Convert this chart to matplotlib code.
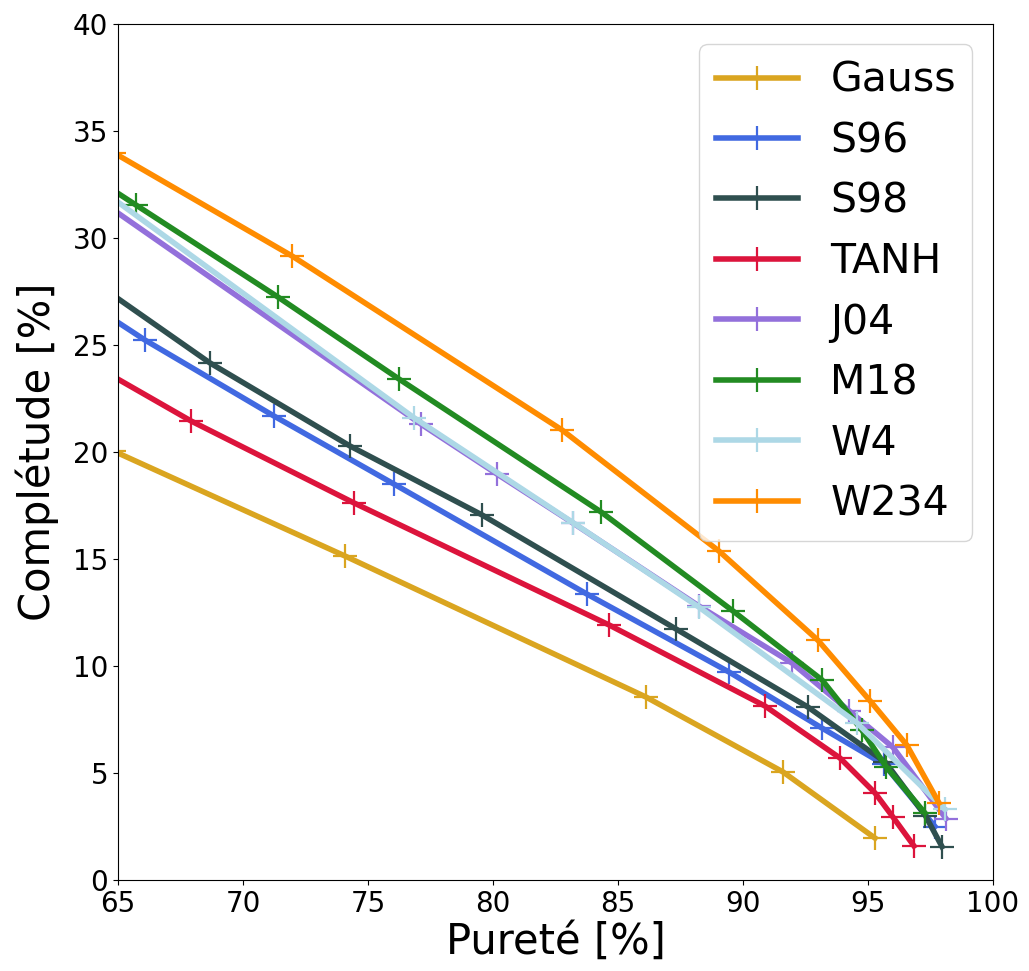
import matplotlib
matplotlib.use("Agg")
import matplotlib.pyplot as plt

# purete [%] / completude [%]
gauss_x = [64.85, 74.08, 86.12, 91.6, 95.28]
gauss_y = [20.03, 15.14, 8.55, 5.05, 1.96]

s96_x = [63.5, 66.08, 71.24, 76.04, 83.76, 89.44, 93.16, 95.64, 97.68]
s96_y = [27.2, 25.23, 21.68, 18.5, 13.36, 9.72, 7.1, 5.4, 2.5]

s98_x = [63.0, 68.68, 74.28, 79.56, 87.32, 92.6, 95.7, 97.3, 97.96]
s98_y = [28.8, 24.16, 20.28, 17.06, 11.73, 8.08, 5.5, 3.0, 1.56]

tanh_x = [63.0, 67.92, 74.44, 84.64, 90.88, 93.88, 95.28, 96.0, 96.84]
tanh_y = [24.74, 21.45, 17.62, 11.92, 8.13, 5.7, 4.07, 2.94, 1.59]

j04_x = [62.5, 77.12, 80.16, 83.2, 88.24, 91.96, 94.25, 96.0, 98.12]
j04_y = [33.2, 21.3, 18.97, 16.68, 12.8, 10.14, 7.9, 6.2, 2.87]

m18_x = [63.0, 65.72, 71.4, 76.24, 84.32, 89.6, 93.16, 94.76, 95.72, 97.28]
m18_y = [33.6, 31.54, 27.24, 23.41, 17.2, 12.57, 9.35, 7.0, 5.3, 3.13]

w4_x = [62.5, 76.84, 83.2, 88.24, 94.56, 98.08]
w4_y = [33.8, 21.6, 16.7, 12.75, 7.34, 3.3]

w234_x = [64.85, 71.96, 82.76, 89.04, 93.0, 95.1, 96.55, 97.84]
w234_y = [33.97, 29.16, 21.03, 15.37, 11.2, 8.35, 6.31, 3.6]

series = [
    ("Gauss", gauss_x, gauss_y, "goldenrod"),
    ("S96", s96_x, s96_y, "royalblue"),
    ("S98", s98_x, s98_y, "darkslategray"),
    ("TANH", tanh_x, tanh_y, "crimson"),
    ("J04", j04_x, j04_y, "mediumpurple"),
    ("M18", m18_x, m18_y, "forestgreen"),
    ("W4", w4_x, w4_y, "lightblue"),
    ("W234", w234_x, w234_y, "darkorange"),
]

fig = plt.figure(figsize=(10.29, 9.71), dpi=100)
ax = fig.add_axes([0.1147, 0.0937, 0.8503, 0.8816])

for name, x, y, c in series:
    ax.plot(x, y, color=c, lw=4, marker="+", ms=17, mew=1.6, label=name)

ax.set_xlim(65, 100)
ax.set_ylim(0, 40)
ax.set_xlabel("Pureté [%]", fontsize=30, labelpad=2)
ax.set_ylabel("Complétude [%]", fontsize=30, labelpad=10)
ax.tick_params(labelsize=20)
ax.legend(fontsize=29.5, loc="upper right")

fig.savefig("out.png", dpi=100)
